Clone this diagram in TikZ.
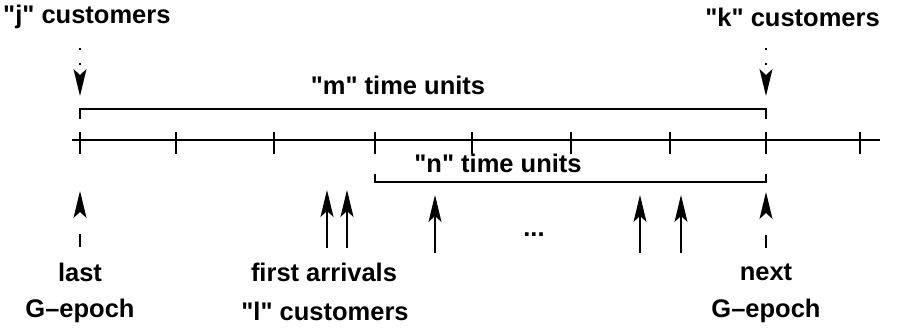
\documentclass[tikz,border=0pt]{standalone}
\usepackage{fontspec}
\newfontfamily\lblfont{Liberation Sans}
\usetikzlibrary{arrows.meta}
\begin{document}
\begin{tikzpicture}[x=1pt,y=-1pt,
  lbl/.style={font=\lblfont\fontsize{25.5}{28}\selectfont\bfseries, inner sep=0pt},
  axis/.style={line width=1.2pt},
  tick/.style={line width=1.2pt},
  brace/.style={line width=1.2pt},
  arr/.style={line width=1.2pt, -{Stealth[length=27pt,width=13pt,inset=6pt]}},
  dotarr/.style={arr, dash pattern=on 1.5pt off 13.5pt},
  dasharr/.style={arr, dash pattern=on 13pt off 30pt}]
\useasboundingbox (0,0) rectangle (911,335);

% time axis
\coordinate (axL) at (72,140);
\coordinate (axR) at (880,140);
\draw[axis] (axL) -- (axR);
\foreach \x [count=\i] in {80,176,274,375,472,571,670,766,860}
  \draw[tick] (\x,132) coordinate (t\i) -- (\x,154);

% "m" time units bracket
\coordinate (mL) at (80,119);
\coordinate (mR) at (766,119);
\draw[brace] (mL) |- (423,109) -| (mR);
\node[lbl] (mlab) at (398,85) {"m" time units};

% "n" time units bracket
\coordinate (nL) at (375,174);
\coordinate (nR) at (766,174);
\draw[brace] (nL) |- (570,182) -| (nR);
\node[lbl] (nlab) at (498,163) {"n" time units};

% customer counts at the epochs
\node[lbl, anchor=west] (jc) at (3,17) {"j" customers};
\node[lbl, anchor=east] (kc) at (880,17) {"k" customers};
\coordinate (jtop) at (80,48);
\coordinate (jbot) at (80,96);
\coordinate (ktop) at (766,48);
\coordinate (kbot) at (766,96);
\draw[dotarr] (jtop) -- (jbot);
\draw[dotarr] (ktop) -- (kbot);

% G-epochs
\coordinate (lastS) at (80,247);
\coordinate (lastT) at (80,191);
\coordinate (nextS) at (766,248);
\coordinate (nextT) at (766,192);
\draw[dasharr] (lastS) -- (lastT);
\draw[dasharr] (nextS) -- (nextT);

% arrivals
\foreach \x/\b/\t [count=\i] in {327/248/190,347/248/190,435/253/195,640/253/195,681/253/195}{
  \coordinate (aS\i) at (\x,\b);
  \coordinate (aT\i) at (\x,\t);
  \draw[arr] (aS\i) -- (aT\i);
}
\node[lbl] (dots) at (534,235) {...};

% bottom labels
\node[lbl] (last) at (80,272) {last};
\node[lbl] (gep1) at (80,311) {G–epoch};
\node[lbl] (first) at (324,272) {first arrivals};
\node[lbl] (lcust) at (325,311) {"l" customers};
\node[lbl] (next) at (766,272) {next};
\node[lbl] (gep2) at (766,311) {G–epoch};
\end{tikzpicture}
\end{document}
